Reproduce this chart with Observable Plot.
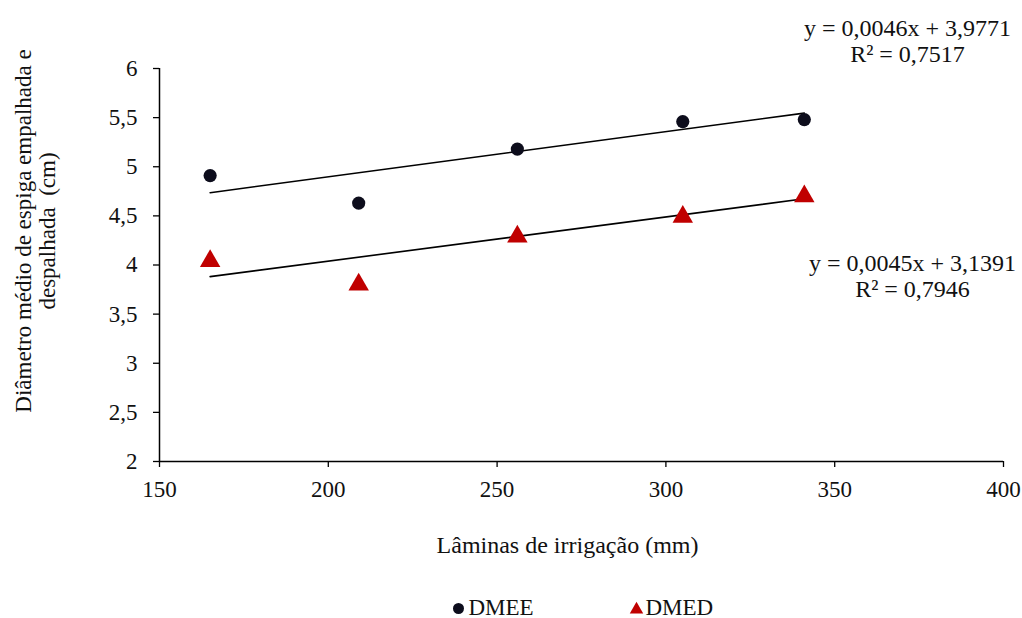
<!DOCTYPE html>
<html>
<head>
<meta charset="utf-8">
<script src="https://cdn.jsdelivr.net/npm/d3@7"></script>
<script src="https://cdn.jsdelivr.net/npm/@observablehq/plot@0.6"></script>
<style>
  html, body { margin: 0; padding: 0; background: #fff; }
  #chart { width: 1022px; height: 618px; }
</style>
</head>
<body>
<div id="chart"></div>
<script>
// ---- Data ----
const laminas = [165, 209, 256, 305, 341];           // irrigation depth (mm)
const dmee = [4.91, 4.63, 5.18, 5.46, 5.48];         // DMEE (cm)
const dmed = [4.04, 3.80, 4.29, 4.49, 4.70];         // DMED (cm)
const seriesNames = ["DMEE", "DMED"];
const trendSlope = [0.0046, 0.0045];
const trendIntercept = [3.9771, 3.1391];
const eqLabels = ["y = 0,0046x + 3,9771", "y = 0,0045x + 3,1391"];
const r2Labels = ["R² = 0,7517", "R² = 0,7946"];
const xTicks = [150, 200, 250, 300, 350, 400];
const yTicks = [2, 2.5, 3, 3.5, 4, 4.5, 5, 5.5, 6];
const xLabel = "Lâminas de irrigação (mm)";
const yLabel = "Diâmetro médio de espiga empalhada e\ndespalhada  (cm)";

// ---- Build tables ----
const points = [
  ...laminas.map((x, i) => ({x, y: dmee[i], s: seriesNames[0]})),
  ...laminas.map((x, i) => ({x, y: dmed[i], s: seriesNames[1]}))
];
const xMin = d3.min(laminas), xMax = d3.max(laminas);
const trend = seriesNames.flatMap((s, k) => [xMin, xMax].map(x => ({x, y: trendSlope[k] * x + trendIntercept[k], s})));
const fmt = d => String(d).replace(".", ",");
const serifStack = "'Liberation Serif', 'Times New Roman', serif";

const chart = Plot.plot({
  width: 1022,
  height: 618,
  marginLeft: 159,
  marginRight: 19,
  marginTop: 68,
  marginBottom: 157,
  style: {fontSize: "23px", fontFamily: serifStack, color: "#111", background: "#fff", overflow: "visible"},
  x: {domain: [150, 400]},
  y: {domain: [2, 6]},
  marks: [
    Plot.axisY({ticks: yTicks, tickSize: 6, tickPadding: 16, tickFormat: fmt, fontSize: 23, label: null, stroke: "#000", strokeWidth: 1.3}),
    Plot.axisX({ticks: xTicks, tickSize: 6, tickPadding: 13, tickFormat: fmt, fontSize: 23, label: null, stroke: "#000", strokeWidth: 1.3}),
    Plot.ruleX([150], {stroke: "#000", strokeWidth: 1.5}),
    Plot.ruleY([2], {stroke: "#000", strokeWidth: 1.5}),
    Plot.line(trend, {x: "x", y: "y", z: "s", stroke: "#000", strokeWidth: 1.6}),
    Plot.dot(points.filter(d => d.s === "DMEE"), {x: "x", y: "y", r: 6.6, symbol: "circle", fill: "#0d0d1c", stroke: "none"}),
    Plot.dot(points.filter(d => d.s === "DMED"), {x: "x", y: "y", r: 7.6, symbol: "triangle", fill: "#c00000", stroke: "none"}),
    // equations
    Plot.text([eqLabels[0] + "\n" + r2Labels[0]], {text: d => d, frameAnchor: "top-right", dx: -96, dy: -28, textAnchor: "middle", lineAnchor: "middle", lineHeight: 1.08, fontSize: 24, fill: "#111"}),
    Plot.text([eqLabels[1] + "\n" + r2Labels[1]], {text: d => d, frameAnchor: "top-right", dx: -91, dy: 207, textAnchor: "middle", lineAnchor: "middle", lineHeight: 1.08, fontSize: 24, fill: "#111"}),
    // axis titles
    Plot.text([yLabel], {text: d => d, frameAnchor: "left", dx: -124, dy: -34, rotate: -90, textAnchor: "middle", lineAnchor: "middle", lineHeight: 1.05, fontSize: 23, fill: "#111"}),
    Plot.text([xLabel], {text: d => d, frameAnchor: "bottom", dx: -14, dy: 84, textAnchor: "middle", lineAnchor: "middle", fontSize: 24, fill: "#111"}),
    // legend
    Plot.dot([seriesNames[0]], {frameAnchor: "bottom-left", dx: 299, dy: 147, r: 5.5, symbol: "circle", fill: "#0d0d1c"}),
    Plot.text([seriesNames[0]], {text: d => d, frameAnchor: "bottom-left", dx: 309, dy: 146, textAnchor: "start", lineAnchor: "middle", fontSize: 23, fill: "#111"}),
    Plot.dot([seriesNames[1]], {frameAnchor: "bottom-left", dx: 477, dy: 148, r: 5, symbol: "triangle", fill: "#c00000"}),
    Plot.text([seriesNames[1]], {text: d => d, frameAnchor: "bottom-left", dx: 486, dy: 146, textAnchor: "start", lineAnchor: "middle", fontSize: 23, fill: "#111"})
  ]
});
document.getElementById("chart").appendChild(chart);
// make sure every text of the chart uses the Times-like serif face
d3.select(chart).selectAll("g, text, tspan").each(function() {
  this.style.setProperty("font-family", serifStack);
});
</script>
</body>
</html>
